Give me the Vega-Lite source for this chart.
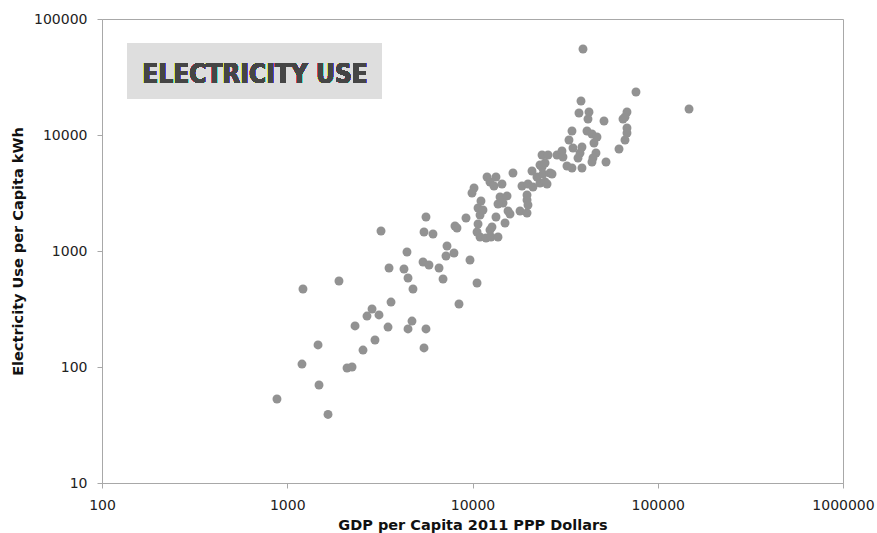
{
  "$schema": "https://vega.github.io/schema/vega-lite/v6.json",
  "width": 741,
  "height": 464,
  "autosize": {"type": "none"},
  "padding": {"left": 102, "top": 19, "right": 34, "bottom": 50},
  "background": "white",
  "config": {
    "view": {"stroke": "#a8a8a8", "strokeWidth": 1},
    "axis": {
      "grid": false,
      "domainColor": "#a8a8a8",
      "tickColor": "#a8a8a8",
      "tickSize": 5,
      "labelFont": "DejaVu Sans",
      "labelFontSize": 14,
      "labelColor": "#222222",
      "titleFont": "DejaVu Sans",
      "titleFontSize": 14.5,
      "titleFontWeight": "bold",
      "titleColor": "#111111",
      "labelFlush": false,
      "format": "d"
    },
    "axisX": {"labelPadding": 10, "titlePadding": 6},
    "axisY": {"labelPadding": 10, "titlePadding": 8}
  },
  "data": {
    "values": [
      {"gdp": 880, "kwh": 53}, {"gdp": 1201, "kwh": 106}, {"gdp": 1216, "kwh": 470}, {"gdp": 1466, "kwh": 155},
      {"gdp": 1484, "kwh": 70}, {"gdp": 1660, "kwh": 39}, {"gdp": 1902, "kwh": 551}, {"gdp": 2102, "kwh": 98},
      {"gdp": 2237, "kwh": 100}, {"gdp": 2322, "kwh": 226}, {"gdp": 2564, "kwh": 140}, {"gdp": 2694, "kwh": 275},
      {"gdp": 2868, "kwh": 316}, {"gdp": 2976, "kwh": 171}, {"gdp": 3128, "kwh": 281}, {"gdp": 3207, "kwh": 1487},
      {"gdp": 3499, "kwh": 221}, {"gdp": 3543, "kwh": 714}, {"gdp": 3632, "kwh": 363}, {"gdp": 4268, "kwh": 700},
      {"gdp": 4430, "kwh": 980}, {"gdp": 4486, "kwh": 585}, {"gdp": 4486, "kwh": 213}, {"gdp": 4714, "kwh": 249},
      {"gdp": 4773, "kwh": 470}, {"gdp": 5473, "kwh": 146}, {"gdp": 5610, "kwh": 213}, {"gdp": 5406, "kwh": 804},
      {"gdp": 5823, "kwh": 757}, {"gdp": 5473, "kwh": 1458}, {"gdp": 5610, "kwh": 1964}, {"gdp": 6120, "kwh": 1401},
      {"gdp": 6596, "kwh": 714}, {"gdp": 6932, "kwh": 574}, {"gdp": 7284, "kwh": 1104}, {"gdp": 7194, "kwh": 906},
      {"gdp": 7945, "kwh": 961}, {"gdp": 8044, "kwh": 1643}, {"gdp": 8247, "kwh": 1579}, {"gdp": 8455, "kwh": 349},
      {"gdp": 9224, "kwh": 1925}, {"gdp": 9694, "kwh": 836}, {"gdp": 10580, "kwh": 530}, {"gdp": 9938, "kwh": 3162},
      {"gdp": 10190, "kwh": 3493}, {"gdp": 10710, "kwh": 2348}, {"gdp": 10980, "kwh": 2043}, {"gdp": 11390, "kwh": 2256},
      {"gdp": 11110, "kwh": 2698}, {"gdp": 10710, "kwh": 1709}, {"gdp": 10580, "kwh": 1458}, {"gdp": 10980, "kwh": 1320},
      {"gdp": 11830, "kwh": 1294}, {"gdp": 12590, "kwh": 1320}, {"gdp": 13730, "kwh": 1320}, {"gdp": 12430, "kwh": 1517},
      {"gdp": 12740, "kwh": 1610}, {"gdp": 11980, "kwh": 4345}, {"gdp": 13390, "kwh": 4345}, {"gdp": 12430, "kwh": 3934},
      {"gdp": 13060, "kwh": 3634}, {"gdp": 14430, "kwh": 3781}, {"gdp": 13390, "kwh": 1964}, {"gdp": 14080, "kwh": 2920},
      {"gdp": 15360, "kwh": 2979}, {"gdp": 14610, "kwh": 2593}, {"gdp": 13730, "kwh": 2542}, {"gdp": 15550, "kwh": 2212},
      {"gdp": 15940, "kwh": 2084}, {"gdp": 14980, "kwh": 1744}, {"gdp": 16540, "kwh": 4704}, {"gdp": 18050, "kwh": 2212},
      {"gdp": 19690, "kwh": 2126}, {"gdp": 19690, "kwh": 3039}, {"gdp": 19690, "kwh": 2752}, {"gdp": 19930, "kwh": 2492},
      {"gdp": 18500, "kwh": 3634}, {"gdp": 19930, "kwh": 3781}, {"gdp": 21210, "kwh": 3562}, {"gdp": 23140, "kwh": 3857},
      {"gdp": 24630, "kwh": 3934}, {"gdp": 25260, "kwh": 3781}, {"gdp": 20950, "kwh": 4895}, {"gdp": 22290, "kwh": 4345},
      {"gdp": 24020, "kwh": 4611}, {"gdp": 23140, "kwh": 5512}, {"gdp": 26210, "kwh": 4704}, {"gdp": 26870, "kwh": 4611},
      {"gdp": 23730, "kwh": 5298}, {"gdp": 24630, "kwh": 5736}, {"gdp": 23730, "kwh": 6724}, {"gdp": 25570, "kwh": 6724},
      {"gdp": 28580, "kwh": 6724}, {"gdp": 30410, "kwh": 7280}, {"gdp": 30790, "kwh": 6462}, {"gdp": 32360, "kwh": 5405},
      {"gdp": 34440, "kwh": 5194}, {"gdp": 39000, "kwh": 5194}, {"gdp": 33180, "kwh": 9056}, {"gdp": 34440, "kwh": 10830},
      {"gdp": 34870, "kwh": 7727}, {"gdp": 39000, "kwh": 7882}, {"gdp": 38050, "kwh": 6996}, {"gdp": 37110, "kwh": 6335},
      {"gdp": 41500, "kwh": 10830}, {"gdp": 44160, "kwh": 10200}, {"gdp": 46990, "kwh": 9612}, {"gdp": 45270, "kwh": 8531},
      {"gdp": 46410, "kwh": 6996}, {"gdp": 44710, "kwh": 6335}, {"gdp": 44160, "kwh": 5851}, {"gdp": 52560, "kwh": 5851},
      {"gdp": 37570, "kwh": 15480}, {"gdp": 42550, "kwh": 15790}, {"gdp": 42020, "kwh": 13730}, {"gdp": 51270, "kwh": 13200},
      {"gdp": 38520, "kwh": 19640}, {"gdp": 39490, "kwh": 55120}, {"gdp": 68230, "kwh": 15790}, {"gdp": 66560, "kwh": 14300},
      {"gdp": 64930, "kwh": 13730}, {"gdp": 68230, "kwh": 11490}, {"gdp": 68230, "kwh": 10400}, {"gdp": 66560, "kwh": 9056},
      {"gdp": 61780, "kwh": 7575}, {"gdp": 76300, "kwh": 23480}, {"gdp": 147500, "kwh": 16750}
    ]
  },
  "layer": [
    {
      "mark": {"type": "point", "filled": true, "opacity": 1, "color": "#929292", "size": 80, "strokeWidth": 0},
      "encoding": {
        "x": {
          "field": "gdp", "type": "quantitative",
          "scale": {"type": "log", "domain": [100, 1000000], "nice": false},
          "axis": {"title": "GDP per Capita 2011 PPP Dollars", "values": [100, 1000, 10000, 100000, 1000000]}
        },
        "y": {
          "field": "kwh", "type": "quantitative",
          "scale": {"type": "log", "domain": [10, 100000], "nice": false},
          "axis": {"title": "Electricity Use per Capita kWh", "values": [10, 100, 1000, 10000, 100000]}
        }
      }
    },
    {
      "mark": {"type": "rect", "color": "#dedede"},
      "encoding": {
        "x": {"datum": 138, "type": "quantitative", "scale": {"type": "log", "domain": [100, 1000000], "nice": false}, "axis": {"title": "GDP per Capita 2011 PPP Dollars", "values": [100, 1000, 10000, 100000, 1000000]}},
        "x2": {"datum": 3243},
        "y": {"datum": 62100, "type": "quantitative", "scale": {"type": "log", "domain": [10, 100000], "nice": false}, "axis": {"title": "Electricity Use per Capita kWh", "values": [10, 100, 1000, 10000, 100000]}},
        "y2": {"datum": 20400}
      }
    },
    {
      "mark": {"type": "text", "text": "ELECTRICITY USE", "font": "DejaVu Sans Condensed", "fontWeight": "bold", "fontSize": 26, "color": "#454545", "align": "center", "baseline": "middle"},
      "encoding": {
        "x": {"datum": 670, "type": "quantitative", "scale": {"type": "log", "domain": [100, 1000000], "nice": false}, "axis": {"title": "GDP per Capita 2011 PPP Dollars", "values": [100, 1000, 10000, 100000, 1000000]}},
        "y": {"datum": 32900, "type": "quantitative", "scale": {"type": "log", "domain": [10, 100000], "nice": false}, "axis": {"title": "Electricity Use per Capita kWh", "values": [10, 100, 1000, 10000, 100000]}}
      }
    }
  ]
}
